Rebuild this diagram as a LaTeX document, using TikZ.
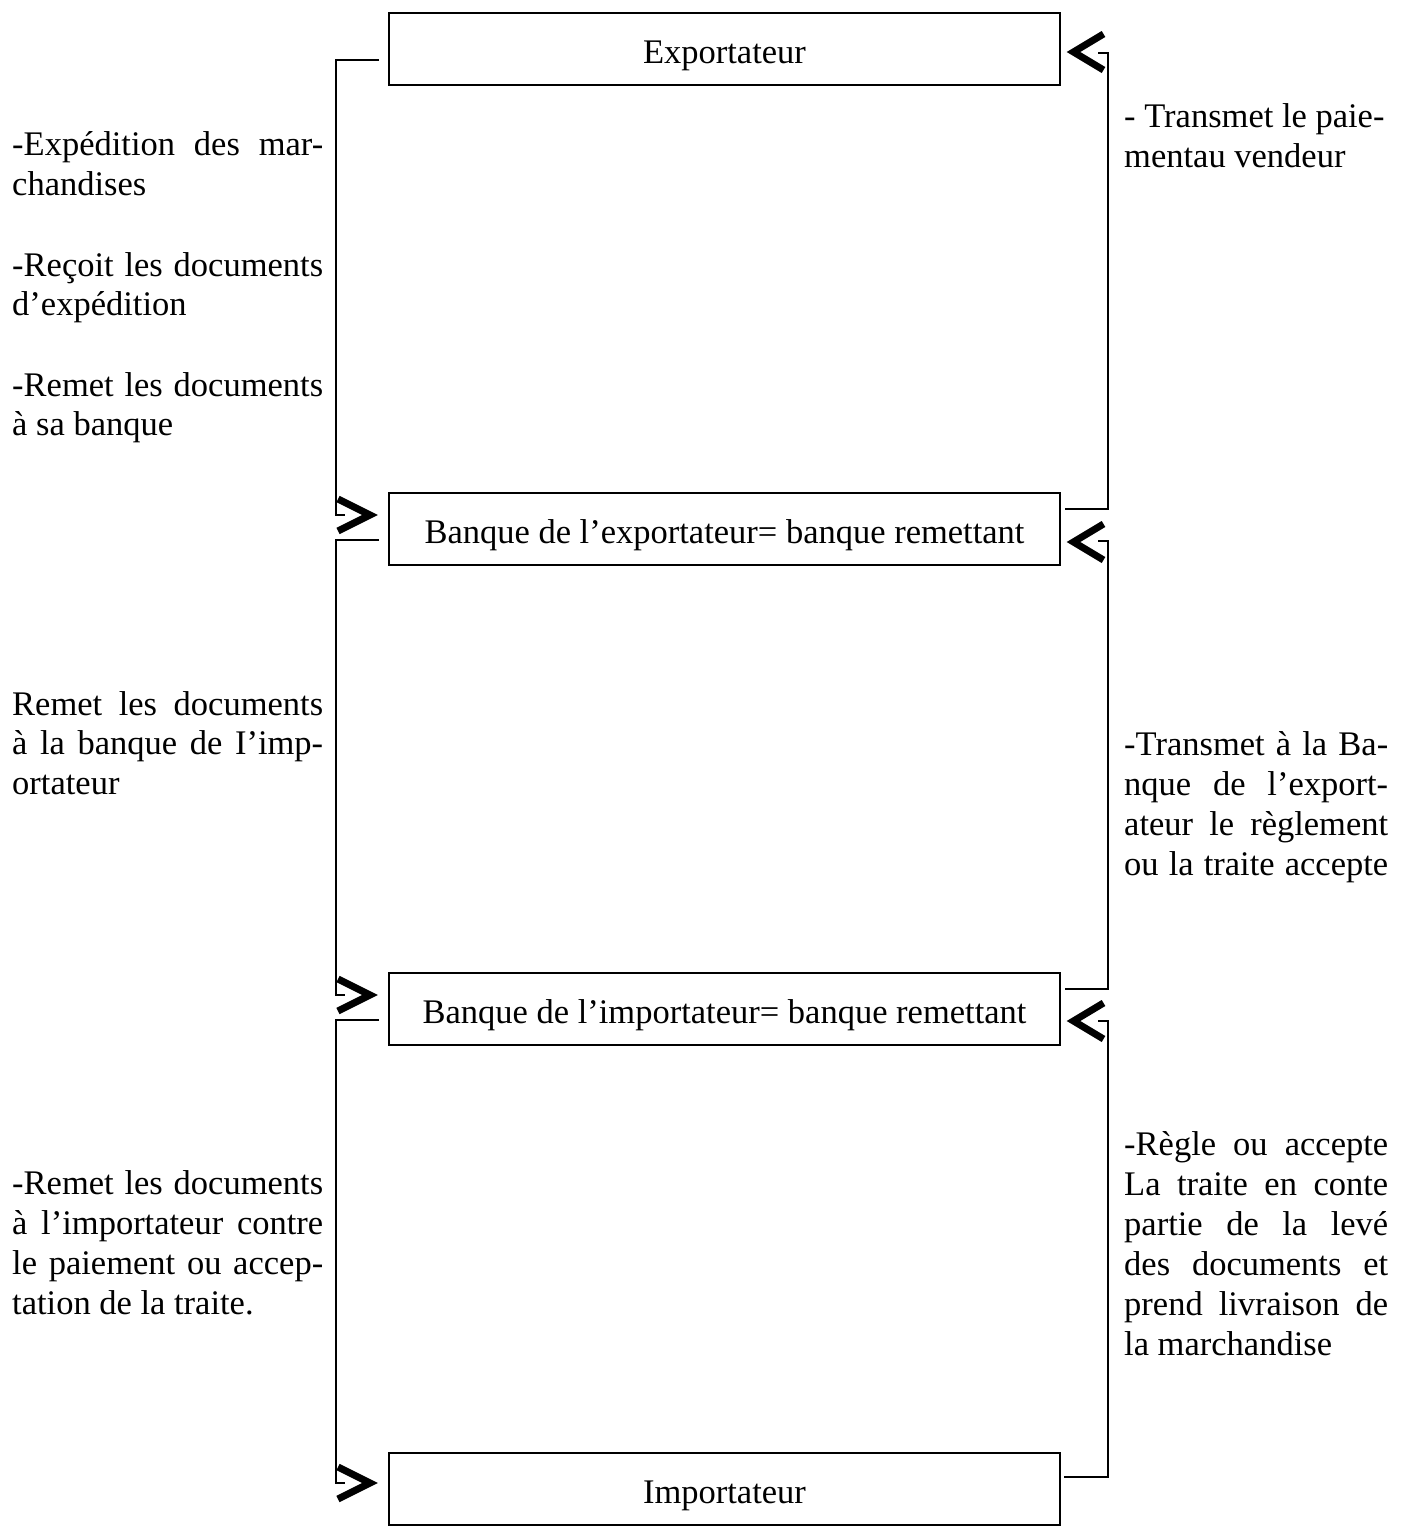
\documentclass[tikz,border=0pt]{standalone}
\usepackage{fontspec}
\setmainfont{Liberation Serif}
\newcommand\jL[1]{\makebox[311pt][s]{#1}}
\newcommand\jR[1]{\makebox[264pt][s]{#1}}
\tikzset{
  box/.style={draw, line width=2pt, minimum width=671pt, minimum height=72pt, inner sep=0pt, text height=34pt, text depth=6pt},
  txt/.style={anchor=base west, inner sep=0pt},
  conn/.style={line width=2pt, line join=miter},
  chev/.style={line width=7pt, line join=miter, line cap=butt},
}
\begin{document}
\begin{tikzpicture}[x=1pt,y=-1pt,font=\fontsize{34.5}{40}\selectfont]
\useasboundingbox[fill=white] (0,0) rectangle (1408,1526);
% boxes
\node[box] (exp) at (724.5,49) {Exportateur};
\node[box] (bexp) at (724.5,529) {Banque de l’exportateur= banque remettant};
\node[box] (bimp) at (724.5,1009) {Banque de l’importateur= banque remettant};
\node[box] (imp) at (724.5,1489) {Importateur};
% left connectors
\coordinate (la1) at (379,60);  \coordinate (la2) at (345,515); \coordinate (lt1) at (370,515);
\coordinate (lb1) at (379,540); \coordinate (lb2) at (345,995); \coordinate (lt2) at (370,995);
\coordinate (lc1) at (379,1020); \coordinate (lc2) at (345,1483); \coordinate (lt3) at (370,1483);
\draw[conn] (la1) -- (336,60) |- (la2);
\draw[conn] (lb1) -- (336,540) |- (lb2);
\draw[conn] (lc1) -- (336,1020) |- (lc2);
\draw[chev] (lt1) ++(-32,-16) -- (lt1) -- ++(-32,16);
\draw[chev] (lt2) ++(-32,-16) -- (lt2) -- ++(-32,16);
\draw[chev] (lt3) ++(-32,-16) -- (lt3) -- ++(-32,16);
% right connectors
\coordinate (ra1) at (1065,509); \coordinate (ra2) at (1098,53); \coordinate (rt1) at (1073.5,52);
\coordinate (rb1) at (1065,989); \coordinate (rb2) at (1098,541); \coordinate (rt2) at (1073.5,542);
\coordinate (rc1) at (1064,1477); \coordinate (rc2) at (1098,1021); \coordinate (rt3) at (1073.5,1021);
\draw[conn] (ra1) -- (1108,509) |- (ra2);
\draw[conn] (rb1) -- (1108,989) |- (rb2);
\draw[conn] (rc1) -- (1108,1477) |- (rc2);
\draw[chev] (rt1) ++(30,-18) -- (rt1) -- ++(30,18);
\draw[chev] (rt2) ++(30,-18) -- (rt2) -- ++(30,18);
\draw[chev] (rt3) ++(30,-18) -- (rt3) -- ++(30,18);
% left texts
\node[txt] (l11) at (12,155) {\jL{-Expédition des mar-}};
\node[txt] (l12) at (12,195) {chandises};
\node[txt] (l13) at (12,276) {\jL{-Reçoit les documents}};
\node[txt] (l14) at (12,315) {d’expédition};
\node[txt] (l15) at (12,396) {\jL{-Remet les documents}};
\node[txt] (l16) at (12,435) {à sa banque};
\node[txt] (l21) at (12,715) {\jL{Remet les documents}};
\node[txt] (l22) at (12,754) {\jL{à la banque de I’imp-}};
\node[txt] (l23) at (12,794) {ortateur};
\node[txt] (l31) at (12,1194) {\jL{-Remet les documents}};
\node[txt] (l32) at (12,1234) {\jL{à l’importateur contre}};
\node[txt] (l33) at (12,1274) {\jL{le paiement ou accep-}};
\node[txt] (l34) at (12,1314) {tation de la traite.};
% right texts
\node[txt] (r11) at (1124,127) {- Transmet le paie-};
\node[txt] (r12) at (1124,167) {mentau vendeur};
\node[txt] (r21) at (1124,755) {\jR{-Transmet à la Ba-}};
\node[txt] (r22) at (1124,795) {\jR{nque de l’export-}};
\node[txt] (r23) at (1124,835) {\jR{ateur le règlement}};
\node[txt] (r24) at (1124,875) {\jR{ou la traite accepte}};
\node[txt] (r31) at (1124,1155) {\jR{-Règle ou accepte}};
\node[txt] (r32) at (1124,1195) {\jR{La traite en conte}};
\node[txt] (r33) at (1124,1235) {\jR{partie de la levé}};
\node[txt] (r34) at (1124,1275) {\jR{des documents et}};
\node[txt] (r35) at (1124,1315) {\jR{prend livraison de}};
\node[txt] (r36) at (1124,1355) {la marchandise};
\end{tikzpicture}
\end{document}
